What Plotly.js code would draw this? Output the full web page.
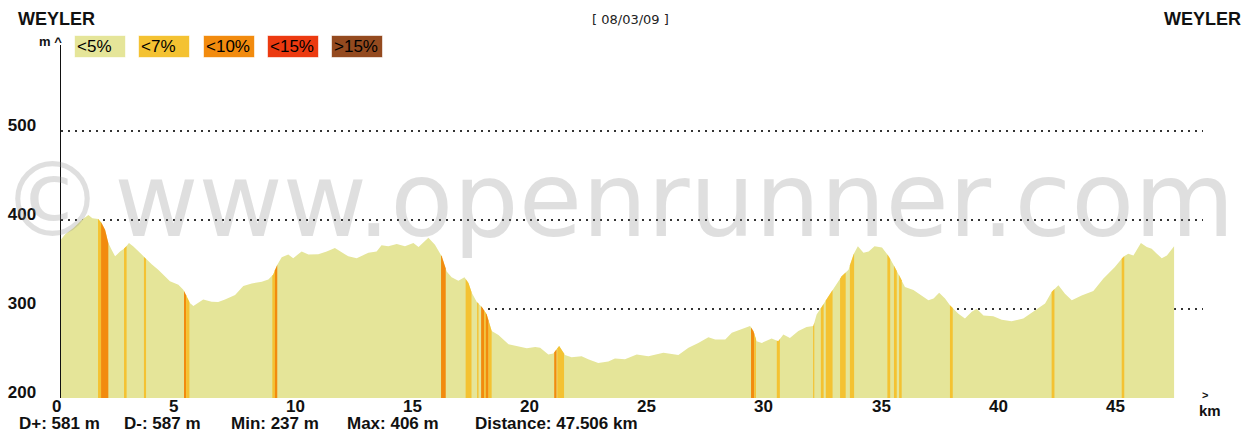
<!DOCTYPE html>
<html><head><meta charset="utf-8">
<script src="https://cdn.plot.ly/plotly-3.0.1.min.js"></script>
<style>html,body{margin:0;padding:0;background:#fff;}#chart{width:1253px;height:433px;}</style>
</head><body><div id="chart"></div>
<script>
// ---- data ----
const distanceKm = [0,0.17,0.53,0.88,1.17,1.34,1.59,1.73,1.88,2.02,2.16,2.31,2.52,2.73,2.9,3.09,3.37,3.59,3.87,4.15,4.44,4.65,5.01,5.22,5.36,5.5,5.65,6.07,6.43,6.71,7.0,7.43,7.78,8.14,8.57,8.85,9.06,9.2,9.42,9.7,9.91,10.27,10.56,10.98,11.34,11.69,12.26,12.62,13.12,13.47,13.68,13.97,14.33,14.68,15.04,15.26,15.68,15.96,16.25,16.46,16.67,16.96,17.22,17.39,17.53,17.74,17.96,18.17,18.38,18.67,19.1,19.45,19.88,20.24,20.45,20.8,21.01,21.26,21.51,21.79,22.22,22.5,22.93,23.36,23.64,24.07,24.57,25.07,25.71,26.35,26.78,27.2,27.63,27.92,28.35,28.63,28.98,29.41,29.55,29.69,29.91,30.33,30.61,30.83,31.11,31.47,31.82,32.11,32.25,32.54,32.9,33.32,33.61,33.82,34.01,34.25,34.47,34.72,35.04,35.33,35.61,35.81,36.02,36.38,36.81,37.02,37.24,37.48,37.73,37.94,38.3,38.58,38.87,39.08,39.37,39.79,40.15,40.57,41.07,41.36,41.71,42.0,42.28,42.57,42.85,43.14,43.56,44.06,44.49,44.98,45.34,45.55,45.77,46.09,46.34,46.55,46.77,46.98,47.2,47.506];
const elevationM = [378,383.5,391,400,405.5,402,401,396.5,389,374,366.5,359,364.5,368.5,374,370,363,357,350,344,336.5,331,327,321.5,314,306.5,303,310.5,308,307.5,310.5,315.5,325.5,328.5,330.5,333,338.5,348,358,361,357,364.5,361,361.5,364.5,368.5,359,357,363,364.5,371.5,370.5,373,370.5,374,369.5,380,372,359,342,335.5,331.5,335.5,329,318,308,302,293.5,275,270.5,260,258,255.5,257,256,248.5,249.5,258,248,245.5,246.5,243,239,240.5,244,243,248.5,246.5,250.5,248,256,261.5,268,265.5,265.5,273,276.5,280.5,275,263.5,261.5,266.5,263.5,271,267,275,279.5,280.5,293.5,305,320,336.5,344,361,370.5,363,364.5,370.5,369,359,345.5,336,324.5,321,313.5,309.5,311.5,318,311.5,304,294.5,289,296.5,300,292.5,291.5,287.5,286,289,294.5,301.5,306,319,326.5,317,309.5,315,320,334,347,358.5,362,360,374,369.5,367.5,362,357,360,370.5];

const gradeCategories = ['<5%','<7%','<10%','<15%','>15%'];
const gradeColors = ['#e5e599','#f4c232','#f28b0e','#ec3a10','#944a1f'];

// steep sections: start km, end km, grade category index
const stripeStartKm = [1.58,1.71,2.69,3.54,5.25,5.34,9.02,9.13,16.22,17.27,17.76,17.93,18.06,18.13,18.25,21.05,21.18,29.45,29.59,30.55,32.10,32.43,32.64,33.25,33.67,35.27,35.55,35.77,37.94,42.28,45.27];
const stripeEndKm   = [1.71,2.02,2.80,3.63,5.34,5.48,9.13,9.23,16.42,17.52,17.82,18.06,18.13,18.25,18.38,21.15,21.47,29.59,29.66,30.68,32.15,32.55,32.93,33.49,33.85,35.39,35.67,35.88,38.06,42.40,45.38];
const stripeGrade   = [1,2,1,1,2,1,1,2,2,1,1,2,1,2,1,2,1,2,1,1,1,1,1,1,1,1,1,1,1,1,1];

const xTickVals = [0,5,10,15,20,25,30,35,40,45];
const yTickVals = [200,300,400,500];
const titleLeft = 'WEYLER';
const titleRight = 'WEYLER';
const dateLabel = '[ 08/03/09 ]';
const statLabels = ['D+','D-','Min','Max','Distance'];
const statValues = ['581 m','587 m','237 m','406 m','47.506 km'];
const watermarkText = '\u00a9\u200awww.openrunner.com';

// ---- geometry (layout) ----
const W = 1253, H = 433;
const M = {l:61, r:50, t:45, b:35};
const PW = W - M.l - M.r, PH = H - M.t - M.b;
const px = v => (v - M.l) / PW;
const py = v => (H - M.b - v) / PH;
const SANS = '"Liberation Sans", Arial, sans-serif';

function elevAt(x){
  for (let i = 1; i < distanceKm.length; i++){
    if (x <= distanceKm[i]){
      const x0 = distanceKm[i-1], x1 = distanceKm[i];
      const t = (x - x0) / (x1 - x0);
      return elevationM[i-1] + t * (elevationM[i] - elevationM[i-1]);
    }
  }
  return elevationM[elevationM.length-1];
}

const traces = [{
  x: distanceKm, y: elevationM, type:'scatter', mode:'lines',
  line:{width:0}, fill:'tozeroy', fillcolor: gradeColors[0],
  hoverinfo:'x+y', showlegend:false
}];
stripeStartKm.forEach((s, i) => {
  const e = stripeEndKm[i];
  const xs = [s];
  distanceKm.forEach(d => { if (d > s && d < e) xs.push(d); });
  xs.push(e);
  traces.push({
    x: xs, y: xs.map(elevAt), type:'scatter', mode:'lines',
    line:{width:0}, fill:'tozeroy', fillcolor: gradeColors[stripeGrade[i]],
    hoverinfo:'skip', showlegend:false
  });
});

const ann = [];
function addText(text, x, y, o){
  ann.push(Object.assign({xref:'paper', yref:'paper', x:px(x), y:py(y), text:text,
    showarrow:false, xanchor:'left', yanchor:'middle',
    font:{family:SANS, size:17, color:'#111'}}, o||{}));
}
// watermark
addText(watermarkText, -1.5, 200, {font:{family:'"DejaVu Sans", Verdana, sans-serif', size:103, color:'rgba(140,140,140,0.28)'}});
// titles
addText(titleLeft, 16, 19, {font:{family:SANS, size:18, weight:700, color:'#111'}});
addText(titleRight, 1243, 19, {xanchor:'right', font:{family:SANS, size:18, weight:700, color:'#111'}});
addText(dateLabel, 630, 19, {xanchor:'center', font:{family:'"DejaVu Sans", sans-serif', size:13, color:'#222'}});
// legend boxes
gradeCategories.forEach((c, i) => {
  addText(c.replace('<','&lt;').replace('>','&gt;'), 74 + i*64.3, 46.5, {
    width:46, height:17, align:'left', bgcolor:gradeColors[i], bordercolor:'rgba(255,255,255,0.6)',
    borderwidth:1, borderpad:2, font:{family:SANS, size:17, color:'#000'}
  });
});
// axis markers
addText('m ^', 64, 42, {xanchor:'right', font:{family:SANS, size:13, weight:700, color:'#111'}});
addText('&gt;', 1205, 395, {xanchor:'center', font:{family:SANS, size:11, weight:700, color:'#111'}});
addText('km', 1210, 410.5, {xanchor:'center', font:{family:SANS, size:15, weight:700, color:'#111'}});
// x tick labels
xTickVals.forEach(v => {
  const s = String(v);
  ann.push({xref:'x', yref:'paper', x:v, y:py(407), text:s, showarrow:false,
    xanchor:'center', yanchor:'middle', xshift: s.length === 1 ? -5 : 0,
    font:{family:SANS, size:17, weight:700, color:'#111'}});
});
// stats
const statX = [17, 122, 229, 345, 473];
statLabels.forEach((l, i) => addText(l + ': ' + statValues[i], statX[i], 423, {font:{family:SANS, size:17, weight:700, color:'#111'}}));

const layout = {
  width:W, height:H, margin:M, paper_bgcolor:'#fff', plot_bgcolor:'#fff', showlegend:false,
  font:{family:SANS, color:'#111'},
  xaxis:{range:[0, 48.74], showgrid:false, zeroline:false, showline:false, showticklabels:false, ticks:'', fixedrange:true},
  yaxis:{range:[199.5, 597], tickvals:yTickVals, ticktext:yTickVals.map(String),
    showgrid:true, gridcolor:'#333', griddash:'2px,5px', gridwidth:2,
    zeroline:false, showline:true, linecolor:'#111', linewidth:1.5, ticks:'',
    tickfont:{family:SANS, size:17, weight:700, color:'#111'},
    ticklabelshift:-6, ticklabelstandoff:20, fixedrange:true},
  annotations: ann
};
Plotly.newPlot('chart', traces, layout, {displayModeBar:false, staticPlot:true});
</script></body></html>
